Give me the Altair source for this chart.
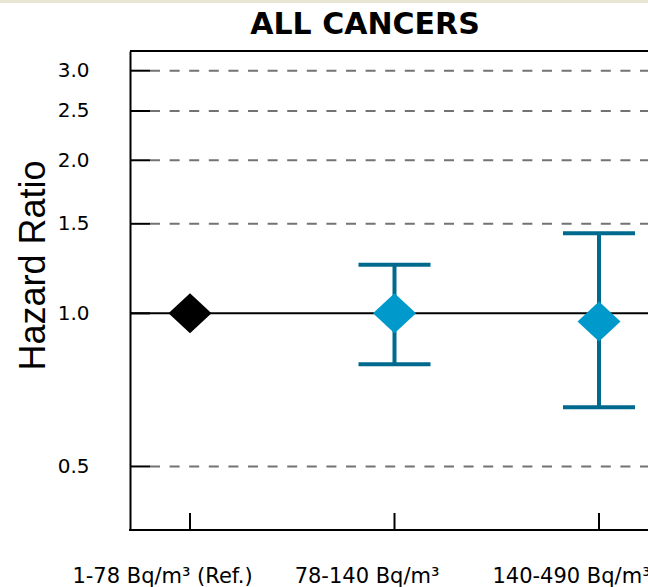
import altair as alt
import pandas as pd

# ---- data ----
title_text = "ALL CANCERS"
categories = ["1-78 Bq/m³ (Ref.)", "78-140 Bq/m³", "140-490 Bq/m³"]
hazard_ratio = [1.0, 1.0, 0.964]
ci_lower = [1.0, 0.794, 0.654]
ci_upper = [1.0, 1.246, 1.437]
groups = ["ref", "exposed", "exposed"]
y_ticks = [0.5, 1.0, 1.5, 2.0, 2.5, 3.0]
grid_values = [0.5, 1.5, 2.0, 2.5, 3.0]

W, H = 518, 479

df = pd.DataFrame({
    "category": categories,
    "hr": hazard_ratio,
    "lo": ci_lower,
    "hi": ci_upper,
    "group": groups,
})
ci_df = df[df["group"] != "ref"]
grid_df = pd.DataFrame({"v": grid_values})
tick_df = pd.DataFrame({"v": y_ticks})
cat_df = pd.DataFrame({"category": categories})
one_df = pd.DataFrame({"k": [0]})
title_df = pd.DataFrame({"t": [title_text]})

x_scale = alt.Scale(type="point", range=[60, 469], padding=0)
y_scale = alt.Scale(type="log", domain=[0.375, 3.28], nice=False)

x_axis = alt.Axis(
    title=None, labelAngle=0, ticks=False, grid=False, domain=False,
    labelFont="DejaVu Sans", labelFontSize=21, labelColor="black",
    labelPadding=52, labelBaseline="alphabetic", labelOffset=-28,
    labelOverlap=False, labelLimit=0,
)
y_axis = alt.Axis(
    title="Hazard Ratio", values=y_ticks, format=".1f", grid=False, ticks=False,
    domain=True, domainColor="black", domainWidth=2,
    labelFont="DejaVu Sans", labelFontSize=20, labelColor="black", labelPadding=41,
    titleFont="Liberation Sans", titleFontSize=36, titleFontWeight="normal",
    titleColor="black", titleAngle=270, titleX=-86, titleY=214,
    titleAlign="center", titleBaseline="alphabetic",
)

X = alt.X("category:N", sort=categories, scale=x_scale, axis=x_axis)

def Y(field):
    return alt.Y(f"{field}:Q", scale=y_scale, axis=y_axis)

grid = alt.Chart(grid_df).mark_rule(
    color="#737373", strokeWidth=2, strokeDash=[10, 9.6]
).encode(y=Y("v"), x=alt.value(20), x2=alt.value(W))

ref_line = alt.Chart(df.head(1)).mark_rule(color="black", strokeWidth=2).encode(
    y=Y("hr"), x=alt.value(0), x2=alt.value(W)
)

y_inner_ticks = alt.Chart(tick_df).mark_rule(color="black", strokeWidth=2).encode(
    y=Y("v"), x=alt.value(0), x2=alt.value(20)
)

x_inner_ticks = alt.Chart(cat_df).mark_rule(color="black", strokeWidth=2).encode(
    x=X, y=alt.value(H - 17), y2=alt.value(H)
)

top_border = alt.Chart(one_df).mark_rule(color="black", strokeWidth=2).encode(
    x=alt.value(0), x2=alt.value(W), y=alt.value(0)
)
bottom_border = alt.Chart(one_df).mark_rule(color="black", strokeWidth=2).encode(
    x=alt.value(-1), x2=alt.value(W), y=alt.value(H)
)
top_band = alt.Chart(one_df).mark_rule(color="#E8E6D3", strokeWidth=3).encode(
    x=alt.value(-130), x2=alt.value(W), y=alt.value(-49.5)
)

title_mark = alt.Chart(title_df).mark_text(
    font="DejaVu Sans", fontSize=30, fontWeight="bold", color="black",
    align="center", baseline="alphabetic",
).encode(text="t:N", x=alt.value(235), y=alt.value(-17))

err_rule = alt.Chart(ci_df).mark_rule(color="#006A8E", strokeWidth=4).encode(
    x=X, y=Y("lo"), y2="hi:Q"
)
cap_lo = alt.Chart(ci_df).mark_tick(
    color="#006A8E", size=72, thickness=4, orient="horizontal", opacity=1
).encode(x=X, y=Y("lo"))
cap_hi = alt.Chart(ci_df).mark_tick(
    color="#006A8E", size=72, thickness=4, orient="horizontal", opacity=1
).encode(x=X, y=Y("hi"))

diamonds = alt.Chart(df).mark_point(
    shape="M-1,0L0,-0.93L1,0L0,0.93Z", filled=True, opacity=1, size=1849
).encode(
    x=X, y=Y("hr"),
    color=alt.Color("group:N", scale=alt.Scale(domain=["ref", "exposed"], range=["black", "#0099CC"]), legend=None),
)

chart = alt.layer(
    grid, ref_line, y_inner_ticks, x_inner_ticks, top_border, bottom_border, top_band,
    title_mark, err_rule, cap_lo, cap_hi, diamonds,
).properties(
    width=W, height=H,
    autosize=alt.AutoSizeParams(type="none"),
    padding={"left": 130, "top": 51, "right": 0, "bottom": 57},
    background="white",
).configure_view(stroke=None)

chart.save("out.html", embed_options={"renderer": "svg", "actions": False})
